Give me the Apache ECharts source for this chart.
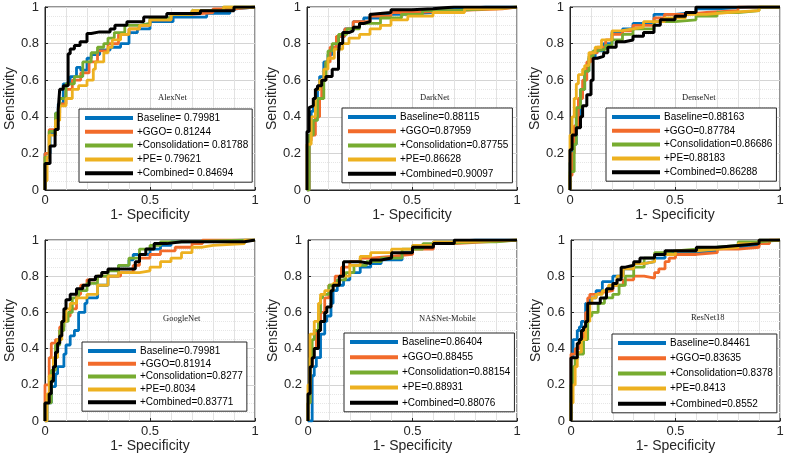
<!DOCTYPE html>
<html>
<head>
<meta charset="utf-8">
<script src="https://cdn.jsdelivr.net/npm/echarts@6/dist/echarts.min.js"></script>
<style>html,body{margin:0;padding:0;background:#fff}#c{width:787px;height:460px}</style>
</head>
<body>
<div id="c"></div>
<script>
// ---- Data ----
const models = ['AlexNet', 'DarkNet', 'DenseNet', 'GoogleNet', 'NASNet-Mobile', 'ResNet18'];
const xTicks = [0, 0.5, 1];
const yTicks = [0, 0.2, 0.4, 0.6, 0.8, 1];

const alexLabels = ['Baseline= 0.79981', '+GGO= 0.81244', '+Consolidation= 0.81788', '+PE= 0.79621', '+Combined= 0.84694'];
const darkLabels = ['Baseline=0.88115', '+GGO=0.87959', '+Consolidation=0.87755', '+PE=0.86628', '+Combined=0.90097'];
const denseLabels = ['Baseline=0.88163', '+GGO=0.87784', '+Consolidation=0.86686', '+PE=0.88183', '+Combined=0.86288'];
const googleLabels = ['Baseline=0.79981', '+GGO=0.81914', '+Consolidation=0.8277', '+PE=0.8034', '+Combined=0.83771'];
const nasLabels = ['Baseline=0.86404', '+GGO=0.88455', '+Consolidation=0.88154', '+PE=0.88931', '+Combined=0.88076'];
const resLabels = ['Baseline=0.84461', '+GGO=0.83635', '+Consolidation=0.8378', '+PE=0.8413', '+Combined=0.8552'];

// AlexNet
const alexBaseline = [[0,0],[0,0.1],[0.024,0.2],[0.05,0.31],[0.063,0.42],[0.087,0.47],[0.12,0.58],[0.15,0.62],[0.17,0.67],[0.2,0.655],[0.22,0.72],[0.26,0.74],[0.31,0.765],[0.36,0.78],[0.4,0.8],[0.44,0.86],[0.5,0.88],[0.61,0.92],[0.77,0.945],[0.88,0.965],[0.91,0.99],[1,1]];
const alexGGO = [[0,0],[0,0.13],[0.02,0.2],[0.05,0.33],[0.07,0.4],[0.1,0.47],[0.13,0.55],[0.17,0.6],[0.21,0.64],[0.25,0.7],[0.3,0.76],[0.35,0.8],[0.4,0.85],[0.45,0.88],[0.5,0.9],[0.6,0.93],[0.7,0.96],[0.8,0.97],[0.9,0.99],[1,1]];
const alexCons = [[0,0],[0,0.08],[0.02,0.18],[0.05,0.32],[0.07,0.42],[0.1,0.5],[0.14,0.58],[0.18,0.62],[0.22,0.7],[0.25,0.75],[0.28,0.78],[0.3,0.8],[0.33,0.83],[0.38,0.86],[0.45,0.9],[0.5,0.91],[0.6,0.94],[0.7,0.96],[0.85,0.98],[1,1]];
const alexPE = [[0,0],[0.01,0.05],[0.02,0.18],[0.05,0.3],[0.07,0.38],[0.1,0.46],[0.13,0.5],[0.16,0.55],[0.2,0.57],[0.23,0.6],[0.24,0.66],[0.26,0.7],[0.28,0.7],[0.3,0.75],[0.32,0.78],[0.36,0.82],[0.4,0.85],[0.45,0.88],[0.5,0.9],[0.6,0.93],[0.7,0.96],[0.85,0.98],[1,1]];
const alexComb = [[0,0],[0,0.05],[0.024,0.145],[0.048,0.24],[0.063,0.33],[0.07,0.44],[0.087,0.55],[0.11,0.57],[0.12,0.745],[0.14,0.77],[0.167,0.79],[0.2,0.81],[0.22,0.855],[0.26,0.864],[0.31,0.864],[0.333,0.88],[0.39,0.9],[0.47,0.92],[0.58,0.945],[0.74,0.965],[0.9,0.98],[0.96,1],[1,1]];

// DarkNet
const darkBaseline = [[0,0],[0.01,0],[0.01,0.1],[0.02,0.3],[0.03,0.43],[0.05,0.46],[0.06,0.55],[0.08,0.62],[0.1,0.7],[0.12,0.74],[0.15,0.78],[0.18,0.84],[0.22,0.88],[0.27,0.92],[0.35,0.94],[0.45,0.96],[0.6,0.97],[0.75,0.99],[0.85,1],[1,1]];
const darkGGO = [[0,0],[0.01,0],[0.02,0.27],[0.04,0.3],[0.06,0.4],[0.07,0.5],[0.09,0.6],[0.11,0.7],[0.14,0.78],[0.18,0.84],[0.22,0.88],[0.3,0.92],[0.4,0.95],[0.5,0.97],[0.7,0.98],[0.93,0.99],[1,1]];
const darkCons = [[0,0],[0.01,0],[0.03,0.3],[0.05,0.38],[0.08,0.5],[0.09,0.6],[0.1,0.7],[0.12,0.76],[0.15,0.8],[0.19,0.85],[0.25,0.88],[0.35,0.91],[0.45,0.94],[0.55,0.96],[0.7,0.98],[0.85,0.99],[1,1]];
const darkPE = [[0,0],[0.02,0.25],[0.04,0.4],[0.06,0.55],[0.08,0.6],[0.1,0.66],[0.13,0.72],[0.17,0.77],[0.2,0.8],[0.25,0.83],[0.3,0.85],[0.35,0.88],[0.4,0.9],[0.48,0.93],[0.6,0.95],[0.75,0.97],[0.9,0.99],[1,1]];
const darkComb = [[0,0],[0,0.28],[0.01,0.32],[0.01,0.45],[0.03,0.46],[0.04,0.5],[0.05,0.55],[0.07,0.57],[0.09,0.6],[0.12,0.62],[0.15,0.66],[0.155,0.75],[0.17,0.8],[0.2,0.86],[0.22,0.87],[0.25,0.89],[0.27,0.91],[0.3,0.92],[0.31,0.96],[0.4,0.97],[0.5,0.985],[0.6,0.99],[0.7,1],[1,1]];

// DenseNet
const denseBaseline = [[0,0],[0.01,0.15],[0.03,0.25],[0.05,0.4],[0.07,0.55],[0.09,0.65],[0.12,0.72],[0.16,0.76],[0.2,0.8],[0.25,0.86],[0.3,0.88],[0.4,0.91],[0.5,0.96],[0.6,0.97],[0.7,0.99],[0.85,1],[1,1]];
const denseGGO = [[0,0],[0.01,0.08],[0.02,0.2],[0.04,0.35],[0.06,0.5],[0.08,0.6],[0.1,0.7],[0.13,0.75],[0.17,0.78],[0.2,0.82],[0.25,0.85],[0.3,0.87],[0.4,0.9],[0.45,0.94],[0.55,0.96],[0.65,0.97],[0.8,0.98],[1,1]];
const denseCons = [[0,0],[0.02,0.1],[0.03,0.25],[0.05,0.45],[0.07,0.55],[0.09,0.65],[0.11,0.73],[0.13,0.76],[0.17,0.77],[0.2,0.79],[0.25,0.82],[0.3,0.85],[0.4,0.88],[0.5,0.92],[0.6,0.93],[0.7,0.95],[0.8,0.97],[0.9,0.98],[1,1]];
const densePE = [[0,0],[0,0.2],[0.01,0.3],[0.02,0.4],[0.03,0.5],[0.04,0.58],[0.06,0.63],[0.07,0.66],[0.09,0.68],[0.12,0.75],[0.15,0.78],[0.2,0.82],[0.24,0.87],[0.3,0.88],[0.35,0.89],[0.45,0.92],[0.55,0.94],[0.65,0.96],[0.75,0.97],[0.9,0.98],[1,1]];
const denseComb = [[0,0],[0,0.17],[0.01,0.22],[0.03,0.3],[0.05,0.34],[0.06,0.4],[0.08,0.46],[0.1,0.52],[0.11,0.6],[0.11,0.7],[0.13,0.72],[0.16,0.73],[0.18,0.75],[0.22,0.78],[0.26,0.81],[0.3,0.82],[0.35,0.84],[0.4,0.86],[0.43,0.9],[0.5,0.93],[0.55,0.95],[0.6,0.97],[0.7,1],[1,1]];

// GoogleNet
const googleBaseline = [[0,0],[0.01,0],[0.03,0.1],[0.05,0.19],[0.06,0.26],[0.09,0.3],[0.1,0.37],[0.12,0.42],[0.14,0.47],[0.16,0.5],[0.19,0.6],[0.2,0.65],[0.25,0.68],[0.3,0.75],[0.35,0.8],[0.4,0.86],[0.42,0.89],[0.5,0.92],[0.55,0.95],[0.6,0.97],[0.7,0.99],[0.95,1],[1,1]];
const googleGGO = [[0,0],[0.02,0.2],[0.03,0.35],[0.05,0.43],[0.07,0.45],[0.09,0.52],[0.12,0.58],[0.15,0.62],[0.17,0.7],[0.2,0.75],[0.25,0.78],[0.3,0.8],[0.36,0.8],[0.42,0.82],[0.45,0.86],[0.5,0.9],[0.55,0.92],[0.62,0.94],[0.7,0.96],[0.75,0.98],[1,1]];
const googleCons = [[0,0],[0,0.03],[0.03,0.1],[0.05,0.28],[0.07,0.42],[0.09,0.5],[0.11,0.55],[0.13,0.6],[0.16,0.68],[0.2,0.72],[0.25,0.76],[0.3,0.8],[0.35,0.83],[0.4,0.86],[0.45,0.9],[0.5,0.95],[0.55,0.97],[0.65,0.99],[1,1]];
const googlePE = [[0,0],[0.01,0],[0.02,0.15],[0.04,0.25],[0.06,0.35],[0.08,0.45],[0.1,0.55],[0.12,0.62],[0.15,0.65],[0.2,0.68],[0.25,0.7],[0.3,0.75],[0.35,0.8],[0.45,0.82],[0.5,0.83],[0.55,0.85],[0.6,0.88],[0.65,0.9],[0.7,0.93],[0.75,0.96],[0.8,0.97],[0.95,0.98],[1,1]];
const googleComb = [[0,0],[0,0.05],[0.02,0.1],[0.03,0.15],[0.04,0.22],[0.05,0.3],[0.06,0.38],[0.07,0.43],[0.08,0.47],[0.09,0.55],[0.1,0.62],[0.12,0.67],[0.15,0.7],[0.18,0.73],[0.21,0.75],[0.24,0.78],[0.27,0.8],[0.3,0.82],[0.35,0.84],[0.43,0.84],[0.45,0.88],[0.48,0.92],[0.52,0.95],[0.58,0.98],[0.65,0.99],[0.95,0.99],[1,1]];

// NASNet-Mobile
const nasBaseline = [[0,0],[0.02,0],[0.02,0.1],[0.03,0.25],[0.04,0.3],[0.06,0.35],[0.08,0.48],[0.09,0.55],[0.11,0.58],[0.12,0.65],[0.14,0.72],[0.17,0.75],[0.2,0.78],[0.25,0.82],[0.3,0.85],[0.35,0.87],[0.45,0.89],[0.5,0.93],[0.6,0.97],[0.7,0.99],[0.8,1],[1,1]];
const nasGGO = [[0,0],[0.01,0.1],[0.02,0.3],[0.04,0.4],[0.06,0.5],[0.08,0.6],[0.1,0.68],[0.13,0.75],[0.16,0.8],[0.2,0.85],[0.25,0.88],[0.3,0.9],[0.4,0.91],[0.5,0.92],[0.6,0.95],[0.7,0.98],[0.85,0.99],[1,1]];
const nasCons = [[0,0],[0.01,0.1],[0.02,0.35],[0.03,0.45],[0.05,0.5],[0.06,0.6],[0.07,0.68],[0.1,0.7],[0.14,0.75],[0.18,0.78],[0.22,0.82],[0.28,0.86],[0.35,0.88],[0.45,0.9],[0.55,0.95],[0.65,0.98],[0.8,0.99],[0.9,0.99],[1,1]];
const nasPE = [[0,0],[0.01,0.2],[0.01,0.4],[0.03,0.48],[0.05,0.55],[0.06,0.65],[0.08,0.7],[0.12,0.72],[0.15,0.76],[0.2,0.8],[0.25,0.86],[0.3,0.91],[0.4,0.93],[0.5,0.95],[0.6,0.97],[0.75,0.99],[1,1]];
const nasComb = [[0,0],[0,0.02],[0.01,0.15],[0.02,0.3],[0.03,0.35],[0.05,0.4],[0.06,0.5],[0.08,0.55],[0.09,0.6],[0.11,0.63],[0.12,0.72],[0.15,0.75],[0.17,0.8],[0.2,0.88],[0.25,0.88],[0.3,0.87],[0.35,0.89],[0.4,0.9],[0.5,0.93],[0.6,0.96],[0.7,0.98],[0.8,1],[1,1]];

// ResNet18
const resBaseline = [[0,0],[0,0.25],[0.01,0.35],[0.03,0.45],[0.04,0.5],[0.05,0.52],[0.07,0.55],[0.09,0.65],[0.12,0.68],[0.15,0.72],[0.2,0.77],[0.25,0.8],[0.3,0.84],[0.35,0.87],[0.4,0.88],[0.45,0.9],[0.5,0.93],[0.6,0.93],[0.7,0.94],[0.8,0.96],[0.9,0.97],[1,1]];
const resGGO = [[0,0],[0,0.35],[0.02,0.37],[0.04,0.4],[0.06,0.45],[0.07,0.5],[0.08,0.6],[0.09,0.68],[0.12,0.7],[0.15,0.71],[0.2,0.72],[0.25,0.75],[0.3,0.78],[0.35,0.8],[0.4,0.79],[0.42,0.82],[0.45,0.84],[0.47,0.88],[0.5,0.9],[0.6,0.92],[0.7,0.93],[0.8,0.95],[0.9,0.96],[0.95,0.98],[1,1]];
const resCons = [[0,0],[0.01,0.2],[0.02,0.3],[0.03,0.34],[0.06,0.37],[0.08,0.45],[0.1,0.58],[0.13,0.6],[0.16,0.65],[0.2,0.68],[0.23,0.7],[0.26,0.75],[0.3,0.8],[0.35,0.85],[0.4,0.9],[0.45,0.93],[0.5,0.94],[0.6,0.95],[0.7,0.96],[0.8,0.97],[0.9,0.99],[1,1]];
const resPE = [[0,0],[0.01,0.1],[0.02,0.2],[0.03,0.3],[0.05,0.38],[0.07,0.45],[0.09,0.55],[0.1,0.65],[0.12,0.68],[0.15,0.7],[0.18,0.72],[0.22,0.75],[0.25,0.8],[0.3,0.84],[0.35,0.87],[0.4,0.88],[0.5,0.92],[0.6,0.94],[0.7,0.95],[0.8,0.96],[0.9,0.98],[1,1]];
const resComb = [[0,0],[0,0.35],[0.03,0.35],[0.04,0.43],[0.05,0.45],[0.06,0.5],[0.07,0.52],[0.08,0.55],[0.08,0.65],[0.1,0.65],[0.14,0.65],[0.17,0.68],[0.2,0.73],[0.22,0.76],[0.24,0.78],[0.26,0.85],[0.3,0.86],[0.33,0.88],[0.4,0.9],[0.45,0.92],[0.5,0.94],[0.6,0.94],[0.7,0.96],[0.8,0.97],[0.9,0.98],[0.93,1],[1,1]];

// ---- Layout / style ----
const colors = ['#0072BD', '#F26B2B', '#77AC30', '#EDB120', '#000000'];
const gridBoxes = [
  {left: 45, top: 7, width: 210, height: 183},
  {left: 307, top: 7, width: 210, height: 183},
  {left: 570, top: 7, width: 210, height: 183},
  {left: 45, top: 240, width: 210, height: 181},
  {left: 308, top: 240, width: 209, height: 181},
  {left: 571, top: 240, width: 209, height: 181}
];
const legendBoxes = [
  {left: 79, top: 109, gap: 1.8},
  {left: 342, top: 108, gap: 2.2},
  {left: 606, top: 108, gap: 1.8},
  {left: 82, top: 342, gap: 0.8},
  {left: 344, top: 333, gap: 3.2},
  {left: 612, top: 334, gap: 3.2}
];
const titlePos = [
  {left: 158, top: 93}, {left: 420, top: 93}, {left: 682, top: 93},
  {left: 163, top: 314}, {left: 419, top: 314}, {left: 691, top: 313}
];
const allLabels = [alexLabels, darkLabels, denseLabels, googleLabels, nasLabels, resLabels];
const allData = [
  [alexBaseline, alexGGO, alexCons, alexPE, alexComb],
  [darkBaseline, darkGGO, darkCons, darkPE, darkComb],
  [denseBaseline, denseGGO, denseCons, densePE, denseComb],
  [googleBaseline, googleGGO, googleCons, googlePE, googleComb],
  [nasBaseline, nasGGO, nasCons, nasPE, nasComb],
  [resBaseline, resGGO, resCons, resPE, resComb]
];

const textColor = '#262626';
const grid = [], xAxis = [], yAxis = [], series = [], legend = [], title = [];
models.forEach((m, i) => {
  grid.push(Object.assign({show: true, borderColor: '#262626', borderWidth: 1, backgroundColor: '#fff', containLabel: false}, gridBoxes[i]));
  xAxis.push({
    type: 'value', gridIndex: i, min: 0, max: 1, interval: 0.5,
    name: '1- Specificity', nameLocation: 'middle', nameGap: 18,
    nameTextStyle: {fontSize: 14, color: textColor, fontFamily: 'Liberation Sans'},
    axisLine: {show: true, lineStyle: {color: '#262626'}},
    axisTick: {show: true, inside: true, length: 3, lineStyle: {color: '#262626'}},
    minorTick: {show: true, splitNumber: 5, length: 0},
    axisLabel: {fontSize: 13, color: textColor, margin: 4, fontFamily: 'Liberation Sans',
      formatter: v => xTicks.includes(v) ? String(v) : ''},
    splitLine: {show: true, lineStyle: {color: '#d4d4d4', width: 1}},
    minorSplitLine: {show: true, lineStyle: {color: '#e2e2e2', width: 1}}
  });
  yAxis.push({
    type: 'value', gridIndex: i, min: 0, max: 1, interval: 0.2,
    name: 'Sensitivity', nameLocation: 'middle', nameGap: 28,
    nameTextStyle: {fontSize: 14, color: textColor, fontFamily: 'Liberation Sans'},
    axisLine: {show: true, lineStyle: {color: '#262626'}},
    axisTick: {show: true, inside: true, length: 3, lineStyle: {color: '#262626'}},
    minorTick: {show: true, splitNumber: 4, length: 0},
    axisLabel: {fontSize: 13, color: textColor, margin: 6, fontFamily: 'Liberation Sans',
      formatter: v => yTicks.some(t => Math.abs(t - v) < 1e-9) ? String(+v.toFixed(1)) : ''},
    splitLine: {show: true, lineStyle: {color: '#d4d4d4', width: 1}},
    minorSplitLine: {show: true, lineStyle: {color: '#e6e6e6', width: 1, type: 'dotted'}}
  });
  allLabels[i].forEach((lab, k) => {
    series.push({
      type: 'line', name: lab, xAxisIndex: i, yAxisIndex: i,
      data: allData[i][k], step: 'start', showSymbol: false, symbol: 'none',
      color: colors[k], lineStyle: {width: k === 4 ? 3 : 2.8, color: colors[k]},
      z: 2 + k, animation: false, silent: true
    });
  });
  legend.push({
    data: allLabels[i], orient: 'vertical', left: legendBoxes[i].left, top: legendBoxes[i].top,
    icon: 'rect', itemWidth: 48, itemHeight: 4, itemGap: legendBoxes[i].gap,
    padding: [3, 4, 3, 6], borderColor: '#262626', borderWidth: 1, backgroundColor: '#fff',
    selectedMode: false, z: 10,
    textStyle: {fontSize: 10, color: '#000', fontFamily: 'Liberation Sans', lineHeight: 12, padding: [0, 0, 0, -1]}
  });
  title.push({
    text: m, left: titlePos[i].left, top: titlePos[i].top, padding: 0,
    textStyle: {fontFamily: 'Liberation Serif', fontSize: 8.5, fontWeight: 'normal', color: '#222'}
  });
});

const chart = echarts.init(document.getElementById('c'), null, {renderer: 'canvas'});
chart.setOption({animation: false, grid, xAxis, yAxis, series, legend, title});
</script>
</body>
</html>
